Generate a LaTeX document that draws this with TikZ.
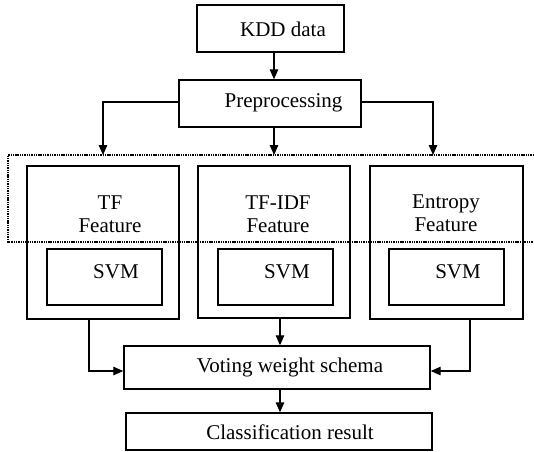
\documentclass[tikz,border=0pt]{standalone}
\usepackage{fontspec}
\setmainfont{Liberation Serif}
\usetikzlibrary{arrows.meta}
\begin{document}
\begin{tikzpicture}[x=1pt,y=-1pt,
  box/.style={draw, line width=1.4pt, inner sep=0pt, rectangle},
  txt/.style={inner sep=0pt, align=center, font=\fontsize{21}{23}\selectfont},
  conn/.style={line width=1.2pt},
  arr/.style={line width=1.2pt, -{Triangle[length=10pt,width=8.5pt]}},
  grp/.style={line width=1.1pt, dash pattern=on 1.4pt off 0.9pt}]
\useasboundingbox[fill=white] (0,0) rectangle (534,451);

% top boxes
\node[box, minimum width=147pt, minimum height=47pt] (kdd) at (270.5,28.5) {};
\node[txt] (kddt) at (283,29) {KDD data};
\node[box, minimum width=182pt, minimum height=47pt] (prep) at (270,103.5) {};
\node[txt] (prept) at (283.5,103) {Preprocessing};

% dotted group
\draw[grp] (534,155) -- (8,155) -- (8,242) -- (534,242);
\coordinate (gL) at (103,155);
\coordinate (gC) at (274,155);
\coordinate (gR) at (433,155);

% feature boxes
\node[box, minimum width=152pt, minimum height=153pt] (tf) at (103,242.5) {};
\node[box, minimum width=152pt, minimum height=152pt] (tfidf) at (274,242) {};
\node[box, minimum width=153pt, minimum height=153pt] (ent) at (446.5,242.5) {};
\node[txt] (tft) at (110,214) {TF\\Feature};
\node[txt] (tfidft) at (278,214) {TF-IDF\\Feature};
\node[txt] (entt) at (446,213) {Entropy\\Feature};

% SVM boxes
\node[box, minimum width=115pt, minimum height=56pt] (svm1) at (104.5,277) {};
\node[box, minimum width=115pt, minimum height=56pt] (svm2) at (275.5,277) {};
\node[box, minimum width=115pt, minimum height=56pt] (svm3) at (446.5,277) {};
\node[txt] (svm1t) at (116,272) {SVM};
\node[txt] (svm2t) at (287,272) {SVM};
\node[txt] (svm3t) at (458,272) {SVM};

% bottom boxes
\node[box, minimum width=306pt, minimum height=43pt] (vote) at (277,367.5) {};
\node[txt] (votet) at (290,367) {Voting weight schema};
\node[box, minimum width=306pt, minimum height=37pt] (cls) at (279,431.5) {};
\node[txt] (clst) at (290,432) {Classification result};

% connectors
\draw[arr] (kdd.south -| gC) -- (prep.north -| gC);
\draw[arr] (prep.west |- 0,102) -| (gL);
\draw[arr] (prep.east |- 0,102) -| (gR);
\draw[arr] (prep.south -| gC) -- (gC);
\draw[arr] (tfidf.south -| 280,0) -- (vote.north -| 280,0);
\draw[arr] (tf.south -| 89,0) |- (vote.west |- 0,371);
\draw[arr] (ent.south -| 470,0) |- (vote.east |- 0,371);
\draw[arr] (vote.south -| 280,0) -- (cls.north -| 280,0);
\end{tikzpicture}
\end{document}
